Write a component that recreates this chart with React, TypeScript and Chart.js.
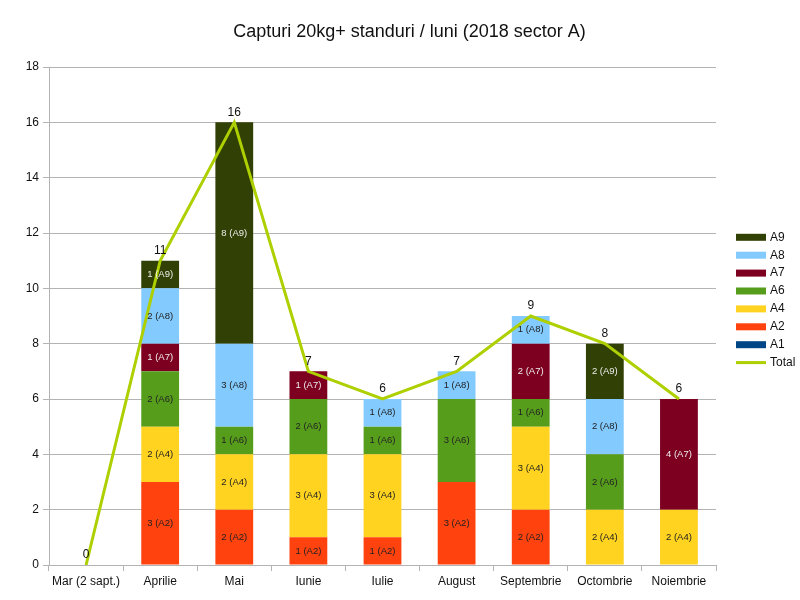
import React, { useEffect, useRef } from "react";
import { Chart, registerables } from "chart.js";

Chart.register(...registerables);

const categories = ["Mar (2 sapt.)", "Aprilie", "Mai", "Iunie", "Iulie", "August", "Septembrie", "Octombrie", "Noiembrie"];
const a1 = [0, 0, 0, 0, 0, 0, 0, 0, 0];
const a2 = [0, 3, 2, 1, 1, 3, 2, 0, 0];
const a4 = [0, 2, 2, 3, 3, 0, 3, 2, 2];
const a6 = [0, 2, 1, 2, 1, 3, 1, 2, 0];
const a7 = [0, 1, 0, 1, 0, 0, 2, 0, 4];
const a8 = [0, 2, 3, 0, 1, 1, 1, 2, 0];
const a9 = [0, 1, 8, 0, 0, 0, 0, 2, 0];
const total = [0, 11, 16, 7, 6, 7, 9, 8, 6];

const seriesNames = ["A1", "A2", "A4", "A6", "A7", "A8", "A9"];
const seriesValues = [a1, a2, a4, a6, a7, a8, a9];
const seriesColors = ["#004586", "#ff420e", "#ffd320", "#579d1c", "#7e0021", "#83caff", "#314004"];
const labelColors = ["#eeeeee", "#222222", "#222222", "#222222", "#eeeeee", "#222222", "#eeeeee"];
const lineColor = "#aecf00";
const titleText = "Capturi 20kg+ standuri / luni (2018 sector A)";
const FONT = "'Liberation Sans', Arial, sans-serif";

const overlayPlugin = {
  id: "overlay",
  afterDatasetsDraw(chart: any) {
    const ctx = chart.ctx;
    ctx.save();
    ctx.textAlign = "center";
    ctx.textBaseline = "middle";
    // bar value labels
    chart.data.datasets.forEach((ds: any, di: number) => {
      if (ds.type === "line") return;
      const meta = chart.getDatasetMeta(di);
      ctx.font = `9.5px ${FONT}`;
      ctx.fillStyle = labelColors[di];
      meta.data.forEach((el: any, i: number) => {
        const v = ds.data[i];
        if (!v) return;
        const cy = (el.y + el.base) / 2;
        ctx.fillText(`${v} (${ds.label})`, el.x, cy);
      });
    });
    // total labels
    const li = chart.data.datasets.findIndex((d: any) => d.type === "line");
    const lmeta = chart.getDatasetMeta(li);
    ctx.font = `12px ${FONT}`;
    ctx.fillStyle = "#111111";
    lmeta.data.forEach((pt: any, i: number) => {
      ctx.fillText(String(total[i]), pt.x, pt.y - 10);
    });
    ctx.restore();
  },
  afterDraw(chart: any) {
    const ctx = chart.ctx;
    ctx.save();
    // title
    ctx.font = `18px ${FONT}`;
    ctx.fillStyle = "#111111";
    ctx.textAlign = "center";
    ctx.textBaseline = "middle";
    ctx.fillText(titleText, 409.5, 32);
    // legend
    ctx.font = `12px ${FONT}`;
    ctx.textAlign = "left";
    const x0 = 736;
    let y = 237.3;
    for (let k = seriesNames.length - 1; k >= 0; k--) {
      ctx.fillStyle = seriesColors[k];
      ctx.fillRect(x0, y - 3.5, 30, 7);
      ctx.fillStyle = "#111111";
      ctx.fillText(seriesNames[k], x0 + 34, y);
      y += 17.9;
    }
    ctx.strokeStyle = lineColor;
    ctx.lineWidth = 3;
    ctx.beginPath();
    ctx.moveTo(x0, y);
    ctx.lineTo(x0 + 30, y);
    ctx.stroke();
    ctx.fillStyle = "#111111";
    ctx.fillText("Total", x0 + 34, y);
    ctx.restore();
  },
};

export default function App() {
  const ref = useRef<HTMLCanvasElement>(null);
  useEffect(() => {
    document.body.style.margin = "0";
    const barSets = seriesNames.map((name, k) => ({
      type: "bar" as const,
      label: name,
      data: seriesValues[k],
      backgroundColor: seriesColors[k],
      borderWidth: 0,
      stack: "bars",
      order: 1,
      categoryPercentage: 1,
      barPercentage: 0.51,
    }));
    const chart = new Chart(ref.current!, {
      type: "bar",
      data: {
        labels: categories,
        datasets: [
          ...barSets,
          {
            type: "line" as const,
            label: "Total",
            data: total,
            borderColor: lineColor,
            backgroundColor: lineColor,
            borderWidth: 3,
            pointRadius: 0,
            tension: 0,
            stack: "line",
            order: 0,
          } as any,
        ],
      },
      options: {
        responsive: false,
        animation: false,
        layout: { padding: { top: 67, right: 84, left: 0, bottom: 0 } },
        plugins: {
          legend: { display: false },
          title: { display: false },
          tooltip: { enabled: false },
        },
        scales: {
          x: {
            stacked: true,
            grid: { drawOnChartArea: false, drawTicks: true, tickLength: 6, color: "#b3b3b3", offset: true },
            border: { display: true, color: "#b3b3b3" },
            ticks: { color: "#111111", font: { family: FONT, size: 12 }, padding: 3, maxRotation: 0, autoSkip: false },
            afterFit: (s: any) => { s.height = 35; },
          },
          y: {
            stacked: true,
            min: 0,
            max: 18,
            grid: { color: "#b3b3b3", tickLength: 6 },
            border: { display: true, color: "#b3b3b3" },
            ticks: { stepSize: 2, color: "#111111", font: { family: FONT, size: 12 }, padding: 4 },
            afterFit: (s: any) => { s.width = 49; },
          },
        },
      },
      plugins: [overlayPlugin],
    });
    return () => chart.destroy();
  }, []);
  return (
    <div style={{ position: "fixed", left: 0, top: 0, width: 800, height: 600, background: "#fff" }}>
      <canvas ref={ref} width={800} height={600} />
    </div>
  );
}
